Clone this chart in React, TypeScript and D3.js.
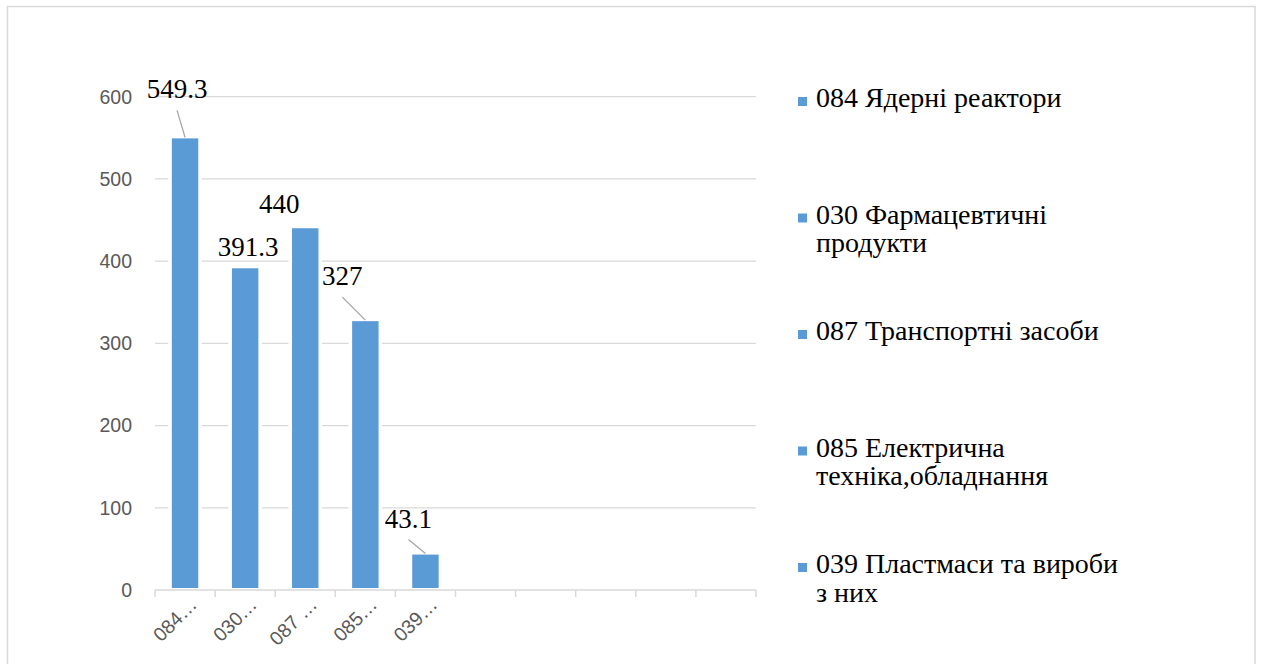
import React from "react";
import * as d3 from "d3";

// ---- data ----
const categories = [
  "084 Ядерні реактори",
  "030 Фармацевтичні продукти",
  "087 Транспортні засоби",
  "085 Електрична техніка,обладнання",
  "039 Пластмаси та вироби з них",
  "",
  "",
  "",
  "",
  "",
];
const values = [549.3, 391.3, 440, 327, 43.1];
const valueLabels = ["549.3", "391.3", "440", "327", "43.1"];
const xTickLabels = ["084…", "030…", "087 …", "085…", "039…"];
const yTicks = [0, 100, 200, 300, 400, 500, 600];

// ---- layout (not data) ----
const W = 1261;
const H = 664;
const BLUE = "#5B9BD5";
const GRID = "#D9D9D9";
const TICK_TEXT = "#595959";
// manual data-label placement relative to bar top-center: [dx, dyBaseline, leader]
const labelPlacement: [number, number, boolean][] = [
  [-8, -40, true],
  [3, -12, false],
  [-26, -15, false],
  [-23, -36, true],
  [-17, -27, true],
];

function wrap(text: string, maxW: number, font: string): string[] {
  const c = document.createElement("canvas").getContext("2d")!;
  c.font = font;
  const words = text.split(" ");
  const lines: string[] = [];
  let cur = "";
  for (const w of words) {
    const t = cur ? cur + " " + w : w;
    if (c.measureText(t).width > maxW && cur) {
      lines.push(cur);
      cur = w;
    } else cur = t;
  }
  if (cur) lines.push(cur);
  return lines;
}

export default function App() {
  const x = d3
    .scaleBand<number>()
    .domain(d3.range(categories.length))
    .range([155, 756])
    .paddingInner(0.56)
    .paddingOuter(0.28);
  const y = d3.scaleLinear().domain([0, 600]).range([590, 96.7]);
  const step = x.step();
  const bw = x.bandwidth();

  const legendFont = "28px 'Liberation Serif'";
  const legendItems = categories.filter((c) => c !== "");
  const legendY = d3
    .scaleLinear()
    .domain([0, legendItems.length - 1])
    .range([107, 573]);

  return (
    <svg
      width={W}
      height={H}
      style={{ position: "absolute", left: 0, top: 0, display: "block", background: "#fff" }}
    >
      <rect x={7.5} y={6.5} width={1247.5} height={700} fill="#fff" stroke={GRID} strokeWidth={1.5} />

      {/* gridlines */}
      {yTicks.map((t) =>
        t === 0 ? null : (
          <line key={t} x1={155} x2={756} y1={y(t)} y2={y(t)} stroke={GRID} strokeWidth={1.3} />
        )
      )}

      {/* y tick labels */}
      {yTicks.map((t) => (
        <text
          key={"yl" + t}
          x={132}
          y={y(t)}
          dy="0.35em"
          textAnchor="end"
          fontFamily="'Liberation Sans', Arial, sans-serif"
          fontSize={19.5}
          fill={TICK_TEXT}
        >
          {t}
        </text>
      ))}

      {/* bars */}
      {values.map((v, i) => (
        <rect
          key={"b" + i}
          x={x(i)!}
          y={y(v)}
          width={bw}
          height={y(0) - y(v) - 2}
          fill={BLUE}
          stroke="#fff"
          strokeWidth={7}
          style={{ paintOrder: "stroke" }}
        />
      ))}

      {/* x axis */}
      <line x1={155} x2={756} y1={590} y2={590} stroke={GRID} strokeWidth={1.5} />
      {d3.range(categories.length + 1).map((i) => (
        <line
          key={"xt" + i}
          x1={155 + i * step}
          x2={155 + i * step}
          y1={590}
          y2={597}
          stroke={GRID}
          strokeWidth={1.5}
        />
      ))}

      {/* x tick labels */}
      {xTickLabels.map((l, i) => {
        const cx = x(i)! + bw / 2;
        return (
          <text
            key={"xl" + i}
            transform={`translate(${cx + 13},${606}) rotate(-45)`}
            textAnchor="end"
            fontFamily="'Liberation Sans', Arial, sans-serif"
            fontSize={19.5}
            fill={TICK_TEXT}
          >
            {l}
          </text>
        );
      })}

      {/* data labels */}
      {values.map((v, i) => {
        const cx = x(i)! + bw / 2;
        const top = y(v);
        const [dx, dy, leader] = labelPlacement[i];
        const lx = cx + dx;
        const ly = top + dy;
        return (
          <g key={"dl" + i}>
            {leader && (
              <line x1={lx} y1={ly + 12} x2={cx} y2={top - 1} stroke="#A6A6A6" strokeWidth={1.3} />
            )}
            <text
              x={lx}
              y={ly}
              textAnchor="middle"
              fontFamily="'Liberation Serif', 'Times New Roman', serif"
              fontSize={27}
              fill="#000"
            >
              {valueLabels[i]}
            </text>
          </g>
        );
      })}

      {/* legend */}
      {legendItems.map((c, i) => {
        const by = legendY(i);
        const lines = wrap(c, 312, legendFont);
        return (
          <g key={"lg" + i}>
            <rect x={798} y={by - 10} width={9} height={9} fill={BLUE} />
            <text
              x={816}
              y={by}
              fontFamily="'Liberation Serif', 'Times New Roman', serif"
              fontSize={28}
              fill="#000"
            >
              {lines.map((ln, j) => (
                <tspan key={j} x={816} dy={j === 0 ? 0 : 28.5}>
                  {ln}
                </tspan>
              ))}
            </text>
          </g>
        );
      })}
    </svg>
  );
}
